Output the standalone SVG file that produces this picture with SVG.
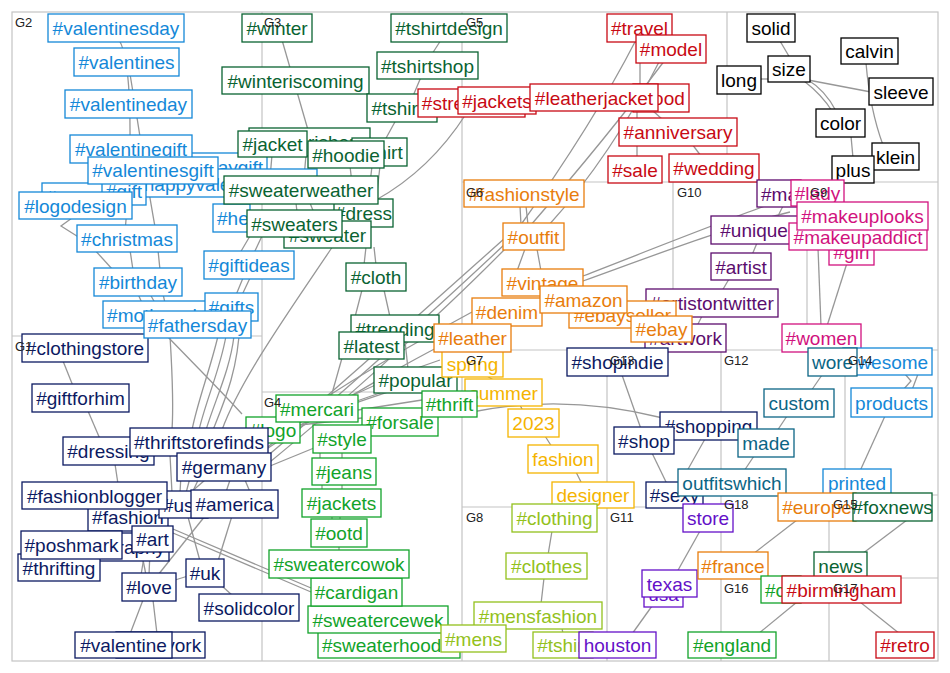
<svg xmlns="http://www.w3.org/2000/svg" width="950" height="673" viewBox="0 0 950 673">
<style>
.bg{fill:#fff}
.grid{stroke:#c4c4c4;stroke-width:1.2;fill:none}
#connectors path{fill:none;stroke:#979797;stroke-width:1.3}
.n rect{fill:#fff;stroke-width:1.3}
.n text{font-family:"Liberation Sans",Arial,sans-serif;font-size:19px;text-anchor:middle}
.n text.s{text-anchor:start}
.gl{font-family:"Liberation Sans",Arial,sans-serif;font-size:13px;fill:#222}
.g1 rect{stroke:#0c1a62}.g1 text{fill:#0c1a62}
.g2 rect{stroke:#1488d8}.g2 text{fill:#1488d8}
.g3 rect{stroke:#0a6332}.g3 text{fill:#0a6332}
.g4 rect{stroke:#12a32a}.g4 text{fill:#12a32a}
.g5 rect{stroke:#c80a14}.g5 text{fill:#c80a14}
.g6 rect{stroke:#e87d0d}.g6 text{fill:#e87d0d}
.g7 rect{stroke:#f5b400}.g7 text{fill:#f5b400}
.g8 rect{stroke:#93c11c}.g8 text{fill:#93c11c}
.g9 rect{stroke:#d1127e}.g9 text{fill:#d1127e}
.g10 rect{stroke:#5c0d6e}.g10 text{fill:#5c0d6e}
.g11 rect{stroke:#6410c8}.g11 text{fill:#6410c8}
.g12 rect{stroke:#0b6585}.g12 text{fill:#0b6585}
.gk rect{stroke:#000}.gk text{fill:#000}
</style>
<rect class="bg" x="0" y="0" width="950" height="673"/>
<g id="grid" class="grid">
<rect x="12" y="12" width="926" height="649"/>
<path d="M262,12V661M12,336H262M262,392H462M462,12V661M462,182H938M727,12V182M673,182V350M807,182V350M462,350H938M607,350V661M462,507H721M721,350V661M845,350V495M721,495H938M829,495V661M721,578H938"/>
</g>
<g id="connectors">
<path d="M119,40 C132,60 133,150 125,232"/>
<path d="M130,74 C136,110 148,190 156,232"/>
<path d="M72,218 L61,226 L80,238"/>
<path d="M93,248 L113,270"/>
<path d="M130,250 L133,270M158,250 L160,270"/>
<path d="M138,294 L142,303M150,294 L155,303M163,294 L165,303"/>
<path d="M170,336 C172,370 174,400 172,430"/>
<path d="M167,336 C195,365 220,390 242,414"/>
<path d="M218,336 C210,370 198,400 192,430"/>
<path d="M226,336 C220,370 206,400 199,430"/>
<path d="M234,336 C230,370 215,400 206,430"/>
<path d="M240,322 C238,370 225,400 213,430"/>
<path d="M250,236 L240,253M262,236 L254,253"/>
<path d="M250,278 L242,295M243,278 L236,295"/>
<path d="M333,246 C290,310 240,380 222,430"/>
<path d="M282,40 L308,130"/>
<path d="M441,40 L432,54M421,77 L413,96M396,120 L385,140"/>
<path d="M466,114 Q430,170 376,200"/>
<path d="M350,166 L354,201M372,166 L368,201M380,166 L376,201"/>
<path d="M272,155 L270,178M306,155 L304,178"/>
<path d="M296,203 L297,212M310,203 L318,223"/>
<path d="M366,247 L364,265M374,247 L376,265"/>
<path d="M362,290 L355,317M384,290 L390,317"/>
<path d="M342,358 L331,397"/>
<path d="M405,341 L408,369"/>
<path d="M63,361 L73,386"/>
<path d="M88,411 L100,439"/>
<path d="M115,464 L118,484"/>
<path d="M170,455 L172,493M182,455 L180,493M196,455 L186,493M210,455 L192,493"/>
<path d="M205,480 L190,493M230,480 L226,492M245,480 L250,492"/>
<path d="M232,516 L218,561"/>
<path d="M188,517 L200,561"/>
<path d="M150,551 L149,575M145,551 L141,575"/>
<path d="M205,516 L158,575"/>
<path d="M143,600 L130,634M153,600 L157,634"/>
<path d="M175,580 L188,576"/>
<path d="M222,586 L233,596"/>
<path d="M173,529 L311,588M173,533 L311,592"/>
<path d="M270,466 L314,448"/>
<path d="M143,560 L146,575"/>
<path d="M255,458 C330,395 430,305 505,238"/>
<path d="M260,462 C335,400 435,310 505,244"/>
<path d="M265,466 C340,405 440,315 505,249"/>
<path d="M472,312 C420,340 330,390 250,450"/>
<path d="M472,330 C420,355 340,400 262,452"/>
<path d="M440,360 C380,380 320,410 270,440"/>
<path d="M420,380 C370,395 320,415 275,430"/>
<path d="M415,383 C380,395 330,410 300,425"/>
<path d="M300,425 L362,418M358,410 L422,400"/>
<path d="M636,40 C600,110 560,170 520,226"/>
<path d="M665,60 C620,120 570,180 530,226"/>
<path d="M660,60 C630,120 590,180 548,226"/>
<path d="M640,62 L640,86"/>
<path d="M637,110 L637,158"/>
<path d="M652,110 L663,120"/>
<path d="M692,144 L701,156"/>
<path d="M526,206 L528,225M520,206 L521,225"/>
<path d="M525,249 L517,271M537,249 L541,271"/>
<path d="M583,276 C650,250 720,222 768,205"/>
<path d="M583,281 C655,255 725,228 790,212"/>
<path d="M783,206 L777,218"/>
<path d="M757,243 L752,255"/>
<path d="M729,279 L722,291"/>
<path d="M702,316 L697,326"/>
<path d="M821,326 L818,248"/>
<path d="M827,326 L847,263"/>
<path d="M780,41 L790,58"/>
<path d="M760,79 L770,79"/>
<path d="M808,80 Q850,88 871,92"/>
<path d="M808,80 Q825,90 836,111M804,81 Q822,95 832,111"/>
<path d="M866,63 Q870,110 883,145"/>
<path d="M851,136 L853,158"/>
<path d="M622,375 L641,429"/>
<path d="M652,453 L667,484"/>
<path d="M705,439 L687,471"/>
<path d="M700,531 L677,572"/>
<path d="M652,606 L632,634"/>
<path d="M822,375 L811,391"/>
<path d="M787,416 L777,431"/>
<path d="M754,456 L744,471"/>
<path d="M905,374 L911,381 L903,390M918,374 L912,390"/>
<path d="M885,416 L860,471"/>
<path d="M472,412 Q565,393 663,418"/>
<path d="M797,520 L753,554"/>
<path d="M907,520 L862,554"/>
<path d="M797,602 L758,634"/>
<path d="M860,602 L900,634"/>
<path d="M487,376 L495,381M520,405 L523,411M545,436 L552,447M576,472 L582,484"/>
<path d="M552,531 L548,555M544,578 L541,604M562,628 L563,634"/>
<path d="M320,452 L320,460M342,452 L342,460M322,484 L322,491M342,484 L342,491M332,516 L332,521M340,516 L340,521M339,546 L339,552"/>
</g>
<g id="nodes">
<g id="n-sweaterhoodie" class="n g4"><rect x="318" y="632" width="142" height="26"/><text x="389" y="652">#sweaterhoodie</text></g>
<g id="n-sweatercewek" class="n g4"><rect x="308" y="606" width="140" height="27"/><text x="378" y="626.5">#sweatercewek</text></g>
<g id="n-cardigan" class="n g4"><rect x="311" y="578" width="91" height="28"/><text x="356.5" y="599">#cardigan</text></g>
<g id="n-sweatercowok" class="n g4"><rect x="269" y="550" width="140" height="28"/><text x="339" y="571">#sweatercowok</text></g>
<g id="n-ootd" class="n g4"><rect x="311" y="519" width="56" height="28"/><text x="339" y="540">#ootd</text></g>
<g id="n-jackets-g4" class="n g4"><rect x="302" y="489" width="79" height="28"/><text x="341.5" y="510">#jackets</text></g>
<g id="n-jeans" class="n g4"><rect x="312" y="458" width="64" height="27"/><text x="344" y="478.5">#jeans</text></g>
<g id="n-forsale" class="n g4"><rect x="362" y="408" width="76" height="28"/><text x="400" y="429">#forsale</text></g>
<g id="n-style" class="n g4"><rect x="313" y="425" width="58" height="28"/><text x="342" y="446">#style</text></g>
<g id="n-logo" class="n g4"><rect x="246" y="417" width="54" height="26"/><text x="273" y="437">#logo</text></g>
<g id="n-mercari" class="n g4"><rect x="276" y="395" width="82" height="27"/><text x="317" y="415.5">#mercari</text></g>

<g id="n-clothingstore" class="n g1"><rect x="22" y="334" width="126" height="28"/><text x="85" y="355">#clothingstore</text></g>
<g id="n-giftforhim" class="n g1"><rect x="32" y="384" width="97" height="28"/><text x="80.5" y="405">#giftforhim</text></g>
<g id="n-dressing" class="n g1"><rect x="63" y="437" width="91" height="28"/><text x="108.5" y="458">#dressing</text></g>
<g id="n-thriftstorefinds" class="n g1"><rect x="130" y="428" width="138" height="28"/><text x="199" y="449">#thriftstorefinds</text></g>
<g id="n-germany" class="n g1"><rect x="177" y="453" width="94" height="28"/><text x="224" y="474">#germany</text></g>
<g id="n-fashion" class="n g1"><rect x="88" y="503" width="80" height="28"/><text x="128" y="524">#fashion</text></g>
<g id="n-usa" class="n g1"><rect x="159" y="491" width="49" height="27"/><text x="183.5" y="511.5">#usa</text></g>
<g id="n-fashionblogger" class="n g1"><rect x="22" y="482" width="145" height="27"/><text x="94.5" y="502.5">#fashionblogger</text></g>
<g id="n-america" class="n g1"><rect x="191" y="490" width="87" height="28"/><text x="234.5" y="511">#america</text></g>
<g id="n-photography" class="n g1"><rect x="45" y="533" width="124" height="28"/><text x="107" y="554">#photography</text></g>
<g id="n-thrifting" class="n g1"><rect x="18" y="554" width="82" height="27"/><text x="59" y="574.5">#thrifting</text></g>
<g id="n-poshmark" class="n g1"><rect x="21" y="531" width="101" height="28"/><text x="71.5" y="552">#poshmark</text></g>
<g id="n-art" class="n g1"><rect x="132" y="526" width="41" height="26"/><text x="152.5" y="546">#art</text></g>
<g id="n-love" class="n g1"><rect x="122" y="573" width="54" height="28"/><text x="149" y="594">#love</text></g>
<g id="n-uk" class="n g1"><rect x="186" y="559" width="38" height="28"/><text x="205" y="580">#uk</text></g>
<g id="n-solidcolor" class="n g1"><rect x="199" y="594" width="100" height="27"/><text x="249" y="614.5">#solidcolor</text></g>
<g id="n-newyork" class="n g1"><rect x="116" y="632" width="89" height="26"/><text x="160.5" y="652">#newyork</text></g>
<g id="n-valentine" class="n g1"><rect x="75" y="632" width="97" height="26"/><text x="123.5" y="652">#valentine</text></g>

<g id="n-valentinesday" class="n g2"><rect x="48" y="14" width="136" height="28"/><text x="116" y="35">#valentinesday</text></g>
<g id="n-valentines" class="n g2"><rect x="74" y="48" width="105" height="28"/><text x="126.5" y="69">#valentines</text></g>
<g id="n-valentineday" class="n g2"><rect x="65" y="90" width="127" height="28"/><text x="128.5" y="111">#valentineday</text></g>
<g id="n-valentinesdaygift" class="n g2"><rect x="107" y="153" width="160" height="28"/><text x="187" y="174">#valentinesdaygift</text></g>
<g id="n-valentinegift" class="n g2"><rect x="70" y="135" width="122" height="28"/><text x="131" y="156">#valentinegift</text></g>
<g id="n-happyvalentinesday" class="n g2"><rect x="128" y="169" width="189" height="28"/><text x="222.5" y="191">#happyvalentinesday</text></g>
<g id="n-hash" class="n g2"><rect x="42" y="183" width="70" height="28"/><text class="s" x="46" y="204">#</text></g>
<g id="n-gift" class="n g2"><rect x="102" y="177" width="44" height="28"/><text x="124" y="198">#gift</text></g>
<g id="n-valentinesgift" class="n g2"><rect x="88" y="157" width="130" height="27"/><text x="153" y="177">#valentinesgift</text></g>
<g id="n-logodesign" class="n g2"><rect x="19" y="192" width="113" height="27"/><text x="75.5" y="212.5">#logodesign</text></g>
<g id="n-christmas" class="n g2"><rect x="77" y="225" width="100" height="27"/><text x="127" y="245.5">#christmas</text></g>
<g id="n-birthday" class="n g2"><rect x="94" y="268" width="88" height="28"/><text x="138" y="289">#birthday</text></g>
<g id="n-mothersday" class="n g2"><rect x="103" y="301" width="118" height="27"/><text x="162" y="321.5">#mothersday</text></g>
<g id="n-giftideas" class="n g2"><rect x="204" y="251" width="90" height="28"/><text x="249" y="272">#giftideas</text></g>
<g id="n-gifts" class="n g2"><rect x="205" y="293" width="53" height="28"/><text x="231.5" y="314">#gifts</text></g>
<g id="n-fathersday" class="n g2"><rect x="144" y="311" width="107" height="27"/><text x="197.5" y="331.5">#fathersday</text></g>
<g id="n-he" class="n g2"><rect x="213" y="204" width="37" height="28"/><text class="s" x="217" y="225">#he</text></g>

<g id="n-winter" class="n g3"><rect x="242" y="14" width="70" height="28"/><text x="277" y="35">#winter</text></g>
<g id="n-winteriscoming" class="n g3"><rect x="222" y="67" width="147" height="27"/><text x="295.5" y="87.5">#winteriscoming</text></g>
<g id="n-tshirtdesign" class="n g3"><rect x="391" y="14" width="116" height="28"/><text x="449" y="35">#tshirtdesign</text></g>
<g id="n-tshirtshop" class="n g3"><rect x="377" y="52" width="101" height="27"/><text x="427.5" y="72.5">#tshirtshop</text></g>
<g id="n-tshirts" class="n g3"><rect x="367" y="94" width="70" height="28"/><text x="402" y="115">#tshirts</text></g>
<g id="n-winterishere" class="n g3"><rect x="249" y="128" width="121" height="28"/><text x="309.5" y="149">#winterishere</text></g>
<g id="n-shirt" class="n g3"><rect x="352" y="138" width="55" height="28"/><text x="379.5" y="159">#shirt</text></g>
<g id="n-jacket" class="n g3"><rect x="238" y="131" width="69" height="26"/><text x="272.5" y="151">#jacket</text></g>
<g id="n-hoodie" class="n g3"><rect x="308" y="141" width="76" height="27"/><text x="346" y="161.5">#hoodie</text></g>
<g id="n-dress" class="n g3"><rect x="334" y="199" width="59" height="28"/><text x="363.5" y="220">#dress</text></g>
<g id="n-sweater" class="n g3"><rect x="284" y="221" width="87" height="27"/><text x="327.5" y="241.5">#sweater</text></g>
<g id="n-sweaters" class="n g3"><rect x="247" y="210" width="95" height="27"/><text x="294.5" y="230.5">#sweaters</text></g>
<g id="n-sweaterweather" class="n g3"><rect x="224" y="176" width="154" height="28"/><text x="301" y="197">#sweaterweather</text></g>
<g id="n-cloth" class="n g3"><rect x="346" y="263" width="60" height="28"/><text x="376" y="284">#cloth</text></g>
<g id="n-trending" class="n g3"><rect x="351" y="315" width="88" height="27"/><text x="395" y="335.5">#trending</text></g>
<g id="n-latest" class="n g3"><rect x="339" y="332" width="65" height="27"/><text x="371.5" y="352.5">#latest</text></g>
<g id="n-popular" class="n g3"><rect x="374" y="367" width="83" height="26"/><text x="415.5" y="387">#popular</text></g>

<g id="n-streetwear" class="n g5"><rect x="418" y="89" width="107" height="28"/><text x="471.5" y="110">#streetwear</text></g>
<g id="n-jackets-g5" class="n g5"><rect x="458" y="87" width="78" height="27"/><text x="497" y="107.5">#jackets</text></g>
<g id="n-food" class="n g5"><rect x="633" y="84" width="56" height="28"/><text x="661" y="105">#food</text></g>
<g id="n-leatherjacket" class="n g5"><rect x="530" y="84" width="128" height="27"/><text x="594" y="104.5">#leatherjacket</text></g>
<g id="n-travel" class="n g5"><rect x="607" y="14" width="65" height="28"/><text x="639.5" y="35">#travel</text></g>
<g id="n-model" class="n g5"><rect x="636" y="35" width="70" height="28"/><text x="671" y="56">#model</text></g>
<g id="n-anniversary" class="n g5"><rect x="619" y="118" width="118" height="28"/><text x="678" y="139">#anniversary</text></g>
<g id="n-sale" class="n g5"><rect x="608" y="156" width="54" height="27"/><text x="635" y="176.5">#sale</text></g>
<g id="n-wedding" class="n g5"><rect x="669" y="154" width="90" height="28"/><text x="714" y="175">#wedding</text></g>

<g id="n-solid" class="n gk"><rect x="747" y="14" width="48" height="28"/><text x="771" y="35">solid</text></g>
<g id="n-calvin" class="n gk"><rect x="841" y="38" width="57" height="26"/><text x="869.5" y="58">calvin</text></g>
<g id="n-size" class="n gk"><rect x="768" y="56" width="42" height="26"/><text x="789" y="76">size</text></g>
<g id="n-long" class="n gk"><rect x="717" y="66" width="44" height="28"/><text x="739" y="87">long</text></g>
<g id="n-sleeve" class="n gk"><rect x="869" y="78" width="64" height="27"/><text x="901" y="98.5">sleeve</text></g>
<g id="n-color" class="n gk"><rect x="816" y="109" width="49" height="28"/><text x="840.5" y="130">color</text></g>
<g id="n-klein" class="n gk"><rect x="872" y="143" width="47" height="27"/><text x="895.5" y="163.5">klein</text></g>
<g id="n-plus" class="n gk"><rect x="832" y="156" width="42" height="27"/><text x="853" y="176.5">plus</text></g>

<g id="n-ma" class="n g10"><rect x="757" y="180" width="44" height="27"/><text class="s" x="761" y="200.5">#ma</text></g>
<g id="n-uniquegifts" class="n g10"><rect x="711" y="216" width="121" height="28"/><text x="771.5" y="237">#uniquegifts</text></g>
<g id="n-artist" class="n g10"><rect x="711" y="253" width="60" height="27"/><text x="741" y="273.5">#artist</text></g>
<g id="n-artistontwitter" class="n g10"><rect x="646" y="289" width="132" height="28"/><text x="712" y="310">#artistontwitter</text></g>
<g id="n-artwork" class="n g10"><rect x="645" y="324" width="81" height="28"/><text x="685.5" y="345">#artwork</text></g>

<g id="n-spring" class="n g7"><rect x="442" y="350" width="61" height="27"/><text x="472.5" y="370.5">spring</text></g>
<g id="n-summer" class="n g7"><rect x="465" y="379" width="77" height="27"/><text x="503.5" y="399.5">summer</text></g>
<g id="n-2023" class="n g7"><rect x="508" y="409" width="51" height="28"/><text x="533.5" y="430">2023</text></g>
<g id="n-fashion-g7" class="n g7"><rect x="528" y="445" width="70" height="28"/><text x="563" y="466">fashion</text></g>
<g id="n-designer" class="n g7"><rect x="552" y="482" width="82" height="26"/><text x="593" y="502">designer</text></g>

<g id="n-thrift" class="n g4"><rect x="422" y="391" width="55" height="26"/><text x="449.5" y="411">#thrift</text></g>

<g id="n-fashionstyle" class="n g6"><rect x="464" y="180" width="120" height="27"/><text x="524" y="200.5">#fashionstyle</text></g>
<g id="n-outfit" class="n g6"><rect x="503" y="223" width="61" height="27"/><text x="533.5" y="243.5">#outfit</text></g>
<g id="n-vintage" class="n g6"><rect x="502" y="269" width="81" height="27"/><text x="542.5" y="289.5">#vintage</text></g>
<g id="n-denim" class="n g6"><rect x="472" y="298" width="70" height="28"/><text x="507" y="319">#denim</text></g>
<g id="n-ebayseller" class="n g6"><rect x="569" y="301" width="107" height="27"/><text x="622.5" y="321.5">#ebayseller</text></g>
<g id="n-amazon" class="n g6"><rect x="540" y="286" width="87" height="27"/><text x="583.5" y="306.5">#amazon</text></g>
<g id="n-ebay" class="n g6"><rect x="631" y="316" width="61" height="26"/><text x="661.5" y="336">#ebay</text></g>
<g id="n-leather" class="n g6"><rect x="434" y="324" width="77" height="28"/><text x="472.5" y="345">#leather</text></g>

<g id="n-clothing" class="n g8"><rect x="512" y="504" width="85" height="28"/><text x="554.5" y="525">#clothing</text></g>
<g id="n-clothes" class="n g8"><rect x="506" y="553" width="81" height="26"/><text x="546.5" y="573">#clothes</text></g>
<g id="n-mensfashion" class="n g8"><rect x="474" y="602" width="128" height="27"/><text x="538" y="622.5">#mensfashion</text></g>
<g id="n-mens" class="n g8"><rect x="441" y="625" width="65" height="27"/><text x="473.5" y="645.5">#mens</text></g>
<g id="n-tshirt-g8" class="n g8"><rect x="533" y="632" width="60" height="26"/><text x="563" y="652">#tshirt</text></g>

<g id="n-girl" class="n g9"><rect x="829" y="238" width="45" height="27"/><text x="851.5" y="258.5">#girl</text></g>
<g id="n-makeupaddict" class="n g9"><rect x="789" y="223" width="138" height="27"/><text x="858" y="243.5">#makeupaddict</text></g>
<g id="n-lady" class="n g9"><rect x="791" y="180" width="53" height="26"/><text x="817.5" y="200">#lady</text></g>
<g id="n-makeuplooks" class="n g9"><rect x="797" y="202" width="131" height="28"/><text x="862.5" y="223">#makeuplooks</text></g>
<g id="n-women" class="n g9"><rect x="782" y="324" width="79" height="28"/><text x="821.5" y="345">#women</text></g>

<g id="n-shopindie" class="n g1"><rect x="567" y="348" width="101" height="28"/><text x="617.5" y="369">#shopindie</text></g>
<g id="n-shopping" class="n g1"><rect x="660" y="412" width="97" height="28"/><text x="708.5" y="433">#shopping</text></g>
<g id="n-shop" class="n g1"><rect x="614" y="427" width="60" height="27"/><text x="644" y="447.5">#shop</text></g>
<g id="n-sexy" class="n g1"><rect x="646" y="482" width="57" height="26"/><text x="674.5" y="502">#sexy</text></g>

<g id="n-awesome" class="n g2"><rect x="843" y="348" width="89" height="27"/><text x="887.5" y="368.5">awesome</text></g>
<g id="n-products" class="n g2"><rect x="851" y="388" width="81" height="29"/><text x="891.5" y="409.5">products</text></g>
<g id="n-printed" class="n g2"><rect x="823" y="469" width="68" height="27"/><text x="857" y="489.5">printed</text></g>

<g id="n-wore" class="n g12"><rect x="808" y="348" width="49" height="28"/><text x="832.5" y="369">wore</text></g>
<g id="n-custom" class="n g12"><rect x="764" y="389" width="70" height="28"/><text x="799" y="410">custom</text></g>
<g id="n-made" class="n g12"><rect x="738" y="429" width="56" height="28"/><text x="766" y="450">made</text></g>
<g id="n-outfitswhich" class="n g12"><rect x="678" y="469" width="108" height="27"/><text x="732" y="489.5">outfitswhich</text></g>

<g id="n-store" class="n g11"><rect x="683" y="504" width="50" height="28"/><text x="708" y="525">store</text></g>
<g id="n-usa-g11" class="n g11"><rect x="644" y="580" width="39" height="27"/><text x="663.5" y="600.5">usa</text></g>
<g id="n-texas" class="n g11"><rect x="642" y="570" width="55" height="27"/><text x="669.5" y="590.5">texas</text></g>
<g id="n-houston" class="n g11"><rect x="579" y="632" width="77" height="26"/><text x="617.5" y="652">houston</text></g>

<g id="n-europe" class="n g6"><rect x="778" y="493" width="78" height="28"/><text x="817" y="514">#europe</text></g>
<g id="n-france" class="n g6"><rect x="698" y="552" width="70" height="27"/><text x="733" y="572.5">#france</text></g>
<g id="n-foxnews" class="n g3"><rect x="853" y="493" width="79" height="28"/><text x="892.5" y="514">#foxnews</text></g>
<g id="n-news" class="n g3"><rect x="814" y="552" width="53" height="27"/><text x="840.5" y="572.5">news</text></g>
<g id="n-c" class="n g4"><rect x="761" y="576" width="40" height="27"/><text class="s" x="765" y="596.5">#c</text></g>
<g id="n-england" class="n g4"><rect x="688" y="632" width="88" height="26"/><text x="732" y="652">#england</text></g>
<g id="n-birmingham" class="n g5"><rect x="782" y="576" width="119" height="27"/><text x="841.5" y="596.5">#birmingham</text></g>
<g id="n-retro" class="n g5"><rect x="876" y="632" width="58" height="26"/><text x="905" y="652">#retro</text></g>
</g>
<g id="group-labels" class="gl">
<text x="15" y="351">G1</text>
<text x="15" y="27">G2</text>
<text x="264" y="27">G3</text>
<text x="264" y="407">G4</text>
<text x="466" y="27">G5</text>
<text x="466" y="197">G6</text>
<text x="466" y="365">G7</text>
<text x="466" y="522">G8</text>
<text x="810" y="197">G9</text>
<text x="677" y="197">G10</text>
<text x="610" y="522">G11</text>
<text x="724" y="365">G12</text>
<text x="610" y="365">G13</text>
<text x="848" y="365">G14</text>
<text x="833" y="509">G15</text>
<text x="724" y="593">G16</text>
<text x="833" y="593">G17</text>
<text x="724" y="509">G18</text>
</g>
</svg>
